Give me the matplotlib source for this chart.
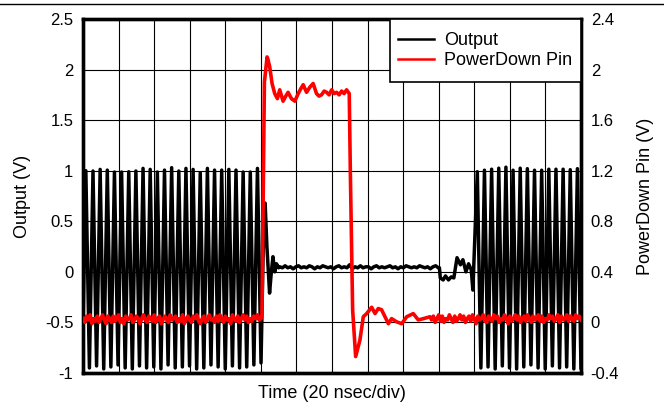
import numpy as np
import matplotlib
matplotlib.use("Agg")
import matplotlib.pyplot as plt
from matplotlib.lines import Line2D
from matplotlib.patches import Rectangle
from matplotlib.ticker import FixedLocator, FuncFormatter

plt.rcParams["font.family"] = ["Liberation Sans", "DejaVu Sans"]

# ---------------- data (time in ns, 20 ns/div) ----------------
x_ticks = list(range(0, 281, 20))
left_ticks = [-1, -0.5, 0, 0.5, 1, 1.5, 2, 2.5]
right_ticks = [-0.4, 0, 0.4, 0.8, 1.2, 1.6, 2.0, 2.4]

# Output: 250 MHz burst, period
period_ns = 4.02
burst1_first_peak = 1.6
burst1_peaks = [1.00, 0.997, 1.013, 1.006, 0.987, 0.987, 0.99, 0.997, 1.023, 1.013,
                0.987, 1.006, 1.03, 0.997, 1.023, 1.013, 0.98, 1.023, 1.006, 1.006,
                1.013, 1.006, 0.987, 0.987, 1.023]
burst1_troughs = [-0.94, -0.95, -0.93, -0.96, -0.94, -0.92, -0.95, -0.96, -0.93, -0.95,
                  -0.94, -0.96, -0.92, -0.95, -0.94, -0.93, -0.96, -0.95, -0.92, -0.94,
                  -0.96, -0.93, -0.95, -0.94, -0.92, -0.90]
burst2_first_peak = 221.7
burst2_peaks = [0.99, 1.005, 1.015, 1.025, 1.035, 1.005, 1.025, 1.02, 1.005, 1.005,
                1.015, 1.015, 1.015, 1.01, 1.02]
burst2_troughs = [-0.95, -0.94, -0.96, -0.93, -0.95, -0.96, -0.94, -0.92, -0.95, -0.96,
                  -0.93, -0.95, -0.94, -0.96, -0.95]

out_off_t = [101.3, 102.4, 103.4, 104.9, 105.9, 106.8, 107.8, 108.8, 110.0]
out_off_v = [0.20, 0.68, 0.25, -0.21, 0.00, 0.15, 0.00, 0.08, 0.04]
out_flat_start, out_flat_end = 110.6, 199.8
out_flat_v = [0.05, 0.04, 0.06, 0.04, 0.05, 0.03, 0.05, 0.06, 0.04, 0.05,
              0.04, 0.06, 0.05, 0.03, 0.05, 0.04, 0.06, 0.05, 0.04, 0.05,
              0.03, 0.05, 0.06, 0.04, 0.05, 0.04, 0.07, 0.03, 0.05, 0.04,
              0.06, 0.04, 0.05, 0.05, 0.03, 0.05, 0.06, 0.04, 0.05, 0.04,
              0.05, 0.06, 0.04, 0.05, 0.03, 0.05, 0.04, 0.06, 0.05, 0.04,
              0.05, 0.04, 0.06, 0.05, 0.04, 0.05, 0.03, 0.05, 0.06, 0.04]
out_on_t = [200.4, 200.9, 202.5, 203.8, 205.5, 207.0, 208.5, 210.3, 212.2, 213.6,
            215.3, 216.8, 218.3, 219.2]
out_on_v = [0.04, -0.06, -0.08, -0.04, -0.08, -0.05, -0.06, 0.14, 0.07, 0.12,
            0.00, 0.08, 0.02, -0.18]

# PowerDown pin (right axis)
pd_low1_start, pd_low1_end = 0.0, 100.0
pd_low1_v = [0.03, 0.00, 0.05, 0.02, 0.06, -0.01, 0.03, 0.01, 0.05, 0.00,
             0.03, 0.06, 0.02, -0.01, 0.05, 0.03, 0.00, 0.05, 0.01, 0.03,
             0.06, 0.00, 0.03, -0.01, 0.05, 0.02, 0.03, 0.06, 0.00, 0.02,
             0.05, 0.03, -0.01, 0.03, 0.06, 0.02, 0.00, 0.05, 0.03, 0.01,
             0.06, 0.00, 0.03, 0.05, -0.01, 0.02, 0.05, 0.03, 0.00, 0.06,
             0.02, 0.03, 0.05, 0.00, 0.03, 0.01, 0.06, -0.01, 0.03, 0.05,
             0.02, 0.00, 0.05, 0.03, 0.06, 0.01, -0.01, 0.03, 0.05, 0.00,
             0.03, 0.06, 0.02, 0.03, 0.00, 0.05, 0.01, 0.06, 0.03, 0.00,
             0.05, 0.02, 0.03, -0.01, 0.06, 0.03, 0.01, 0.05, 0.00, 0.03,
             0.06, 0.02, 0.05, 0.00, 0.03, 0.01, 0.05, 0.03, 0.06, 0.02, 0.03]
pd_edge_t = [100.6, 101.3, 102.0, 103.5, 104.0, 105.0, 106.3, 107.8, 109.3, 110.6,
             112.5, 114.0, 115.3, 117.2, 119.1, 121.0, 122.5, 123.8, 125.7, 127.5,
             129.4, 131.3, 132.7, 134.1, 135.6, 137.0, 138.4, 139.8, 141.2, 142.6,
             144.0, 145.4, 146.8, 148.2, 149.7,
             150.3, 151.6, 153.3, 155.7, 157.6, 159.5, 162.3, 164.2, 166.0, 167.9,
             169.8, 171.7, 173.5, 176.3, 179.2, 182.0, 185.7, 188.5, 191.4, 195.1]
pd_edge_v = [0.05, 1.00, 1.90, 2.10, 2.08, 2.02, 1.89, 1.81, 1.77, 1.84,
             1.75, 1.79, 1.82, 1.77, 1.75, 1.81, 1.85, 1.88, 1.82, 1.86,
             1.89, 1.81, 1.79, 1.80, 1.83, 1.82, 1.80, 1.84, 1.81, 1.82,
             1.80, 1.83, 1.81, 1.84, 1.81,
             1.20, 0.10, -0.27, -0.14, 0.045, 0.07, 0.12, 0.07, 0.11, 0.10,
             0.045, -0.01, 0.03, 0.005, -0.01, 0.045, 0.07, 0.02, 0.03, 0.045]
pd_low2_start, pd_low2_end = 196.0, 280.0
pd_low2_v = [0.02, 0.05, 0.00, 0.03, 0.06, 0.01, 0.05, 0.00, 0.03, 0.02,
             0.06, 0.03, 0.00, 0.05, 0.01, 0.03, 0.06, 0.02, 0.05, 0.00,
             0.03, 0.05, 0.01, 0.06, 0.03, -0.01, 0.05, 0.02, 0.03, 0.06,
             0.01, 0.00, 0.05, 0.03, 0.01, 0.06, 0.03, 0.05, 0.00, 0.03,
             0.02, 0.06, 0.03, -0.01, 0.05, 0.01, 0.03, 0.06, 0.02, 0.05,
             0.00, 0.03, 0.05, 0.01, 0.06, 0.03, 0.00, 0.05, 0.02, 0.03,
             0.06, 0.01, 0.05, 0.00, 0.03, 0.02, 0.06, 0.03, 0.05, 0.01,
             0.03, 0.06, 0.00, 0.05, 0.02, 0.03, 0.06, 0.01, 0.05, 0.03,
             0.01, 0.06, 0.03, 0.05, 0.02]

series_labels = ["Output", "PowerDown Pin"]


# ---------------- build polylines ----------------
def burst(first_peak, peaks, troughs, trough_first):
    half = period_ns / 2.0
    seq = []
    if trough_first:
        start = first_peak - half
        for i in range(len(troughs)):
            seq.append(troughs[i])
            if i < len(peaks):
                seq.append(peaks[i])
    else:
        start = first_peak
        for i in range(len(peaks)):
            seq.append(peaks[i])
            if i < len(troughs):
                seq.append(troughs[i])
    t = [start + k * half for k in range(len(seq))]
    return t, seq


b1_t, b1_v = burst(burst1_first_peak, burst1_peaks, burst1_troughs, True)
b2_t, b2_v = burst(burst2_first_peak, burst2_peaks, burst2_troughs, False)
flat_t = list(np.linspace(out_flat_start, out_flat_end, len(out_flat_v)))
out_t = b1_t + out_off_t + flat_t + out_on_t + b2_t
out_v = b1_v + out_off_v + out_flat_v + out_on_v + b2_v

low1_t = list(np.linspace(pd_low1_start, pd_low1_end, len(pd_low1_v)))
low2_t = list(np.linspace(pd_low2_start, pd_low2_end, len(pd_low2_v)))
pd_t = low1_t + pd_edge_t + low2_t
pd_v = pd_low1_v + pd_edge_v + pd_low2_v

# ---------------- figure ----------------
fig = plt.figure(figsize=(6.64, 4.08), dpi=100)
ax = fig.add_axes([83 / 664, 1 - 373 / 408, (581 - 83) / 664, (373 - 19) / 408])
ax2 = ax.twinx()

ax.plot(out_t, out_v, color="black", lw=2.5, solid_joinstyle="round", zorder=3)
ax2.plot(pd_t, pd_v, color="#ff0000", lw=2.6, solid_joinstyle="round", zorder=3)

ax.set_xlim(0, 280)
ax.set_ylim(-1, 2.5)
ax2.set_ylim(-0.4, 2.4)

ax.xaxis.set_major_locator(FixedLocator(x_ticks))
ax.yaxis.set_major_locator(FixedLocator(left_ticks))
ax2.yaxis.set_major_locator(FixedLocator(right_ticks))
fmt = FuncFormatter(lambda v, p: "%g" % round(v, 2))
ax.yaxis.set_major_formatter(fmt)
ax2.yaxis.set_major_formatter(fmt)
ax.set_xticklabels([])

ax.grid(True, color="black", lw=0.8)
ax.set_axisbelow(True)
ax.tick_params(axis="both", length=0, labelsize=12, pad=7)
ax2.tick_params(axis="both", length=0, labelsize=12, pad=7)

for a in (ax, ax2):
    for s in a.spines.values():
        s.set_linewidth(2.4)
        s.set_color("black")

ax.set_ylabel("Output (V)", fontsize=13, labelpad=10)
ax2.set_ylabel("PowerDown Pin (V)", fontsize=13, labelpad=13)
ax.set_xlabel("Time (20 nsec/div)", fontsize=13, labelpad=2)

# legend box (upper right, flush with axes frame)
lx0 = (390 - 83) / 498
ly0 = 1 - (82 - 19) / 354
box = Rectangle((lx0, ly0), 1 - lx0, 1 - ly0, transform=ax2.transAxes,
                facecolor="white", edgecolor="black", lw=1.2, zorder=9)
ax2.add_patch(box)
handles = [Line2D([], [], color="black", lw=1.8), Line2D([], [], color="#ff0000", lw=1.8)]
leg = ax2.legend(handles, series_labels, loc="center",
                 bbox_to_anchor=(lx0, ly0, 1 - lx0, 1 - ly0), fontsize=13,
                 borderaxespad=0, frameon=False,
                 handlelength=1.95, handletextpad=0.6, borderpad=0.3, labelspacing=0.15)
leg.set_zorder(10)

fig.add_artist(Line2D([0, 1], [1 - 3.5 / 408, 1 - 3.5 / 408], transform=fig.transFigure,
                      color="black", lw=1.0))

fig.savefig("out.png", dpi=100)
